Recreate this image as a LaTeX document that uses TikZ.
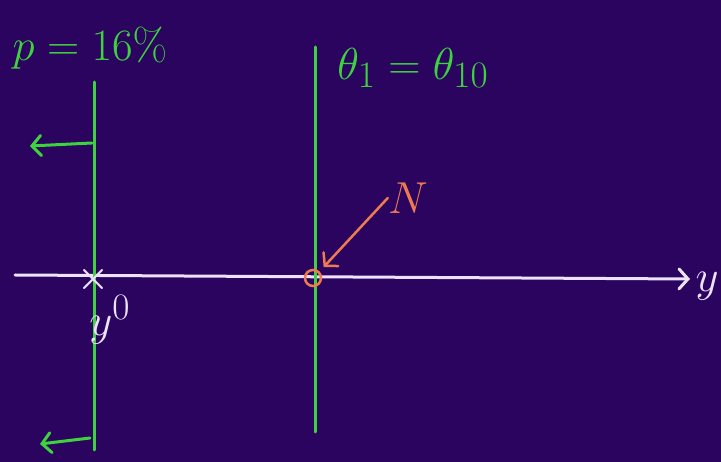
\documentclass[tikz,border=0pt]{standalone}
\usepackage{amsmath}
\usepackage{xcolor}
\usepackage{tikz}
\usetikzlibrary{arrows, arrows.meta, positioning, calc}

\definecolor{board}{RGB}{42,4,94}
\definecolor{chalkgreen}{RGB}{62,210,62}
\definecolor{chalkorange}{RGB}{238,122,82}
\definecolor{chalkwhite}{RGB}{236,226,250}

\begin{document}
\begin{tikzpicture}[x=1pt, y=-1pt, line cap=round,
  barb/.style={-{Straight Barb[length=9pt,width=20pt,line cap=round]}},
  chalktext/.style={inner sep=0pt, font=\Huge, scale=1.8},
  greenline/.style={draw=chalkgreen, line width=3pt},
  axisline/.style={draw=chalkwhite, line width=3pt}]
\fill[board] (0,0) rectangle (721,462);
\useasboundingbox (0,0) rectangle (721,462);

% axis
\coordinate (axl) at (15,275);
\coordinate (axr) at (690,279);
\node (ylab) [chalktext, text=chalkwhite] at (707,286) {$y$};
\draw [axisline, barb] (axl) -- (axr);

% price line and the level line
\coordinate (ptop) at (94,82);
\coordinate (pbot) at (94,450);
\coordinate (ltop) at (315,47);
\coordinate (lbot) at (315,432);
\draw [greenline] (ptop) -- (pbot);
\draw [greenline] (ltop) -- (lbot);

\node (plab) [chalktext, text=chalkgreen] at (90,48) {$p=16\%$};
\node (thlab) [chalktext, text=chalkgreen] at (413,68) {$\theta_1=\theta_{10}$};

% shifts to the left
\coordinate (s1a) at (92,143);
\coordinate (s1b) at (30,146);
\coordinate (s2a) at (90,438);
\coordinate (s2b) at (40,444);
\draw [greenline, barb] (s1a) -- (s1b);
\draw [greenline, barb] (s2a) -- (s2b);

% initial point
\node (x0) [chalktext, text=chalkwhite, scale=0.8] at (94,280) {$\boldsymbol{\times}$};
\node (y0lab) [chalktext, text=chalkwhite] at (110,320) {$y^0$};

% point N
\node (npt) [circle, draw=chalkorange, line width=2.5pt, minimum size=16pt, inner sep=0pt] at (313,278) {};
\node (nlab) [chalktext, text=chalkorange] at (408,198) {$N$};
\draw [draw=chalkorange, line width=2.5pt, barb, shorten >=6pt] (nlab.west) -- (npt.north east);
\end{tikzpicture}
\end{document}
